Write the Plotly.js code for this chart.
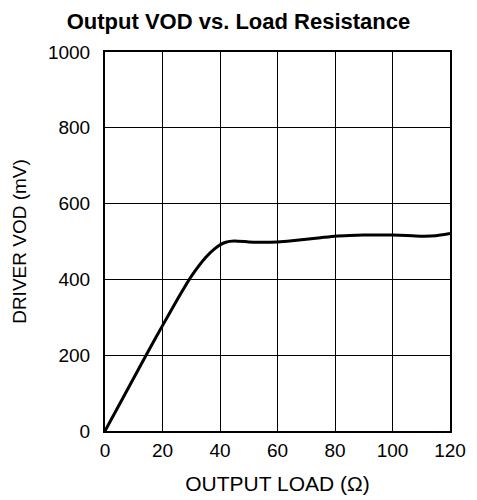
<!DOCTYPE html>
<html><head><meta charset="utf-8">
<script src="https://cdn.plot.ly/plotly-3.0.1.min.js"></script>
<style>body{margin:0;background:#fff}</style>
</head><body>
<div id="chart" style="width:477px;height:500px"></div>
<script>
const loadOhms = [0, 5, 10, 15, 20, 25, 30, 35, 38, 40, 42, 45, 50, 55, 60, 65, 70, 75, 80, 85, 90, 95, 100, 105, 110, 115, 120];
const vodMilliVolts = [0, 70, 140, 210, 278, 345, 408, 458, 480, 491, 498, 501, 499, 498, 499, 502, 506, 510, 514, 516, 517, 517, 517, 516, 514, 515, 521];
const xTicks = [0, 20, 40, 60, 80, 100, 120];
const yTicks = [0, 200, 400, 600, 800, 1000];

const font = "Liberation Sans, Arial, Helvetica, sans-serif";
Plotly.newPlot('chart', [{
  x: loadOhms, y: vodMilliVolts, type: 'scatter', mode: 'lines',
  line: {color: '#000', width: 3, shape: 'spline', smoothing: 0.5},
  hoverinfo: 'skip'
}], {
  width: 477, height: 500,
  margin: {l: 105, r: 27, t: 52, b: 69},
  paper_bgcolor: '#fff', plot_bgcolor: '#fff',
  showlegend: false,
  font: {family: font, color: '#000', size: 19},
  title: {text: '<b>Output VOD vs. Load Resistance</b>', font: {family: font, size: 22, color: '#000'}, x: 0.5, xanchor: 'center', y: 0.958, yanchor: 'middle'},
  xaxis: {
    range: [0, 120], tickvals: xTicks, ticktext: xTicks.map(String),
    showgrid: true, gridcolor: '#000', gridwidth: 1,
    showline: true, linecolor: '#000', linewidth: 2, mirror: true,
    zeroline: false, ticks: '', ticklabelstandoff: 1,
    tickfont: {family: font, size: 19, color: '#000'},
    title: {text: 'OUTPUT LOAD (Ω)', font: {family: font, size: 21, color: '#000'}, standoff: 17}
  },
  yaxis: {
    range: [0, 1000], tickvals: yTicks, ticktext: yTicks.map(String),
    showgrid: true, gridcolor: '#000', gridwidth: 1,
    showline: true, linecolor: '#000', linewidth: 2, mirror: true,
    zeroline: false, ticks: '', ticklabelstandoff: 9,
    tickfont: {family: font, size: 19, color: '#000'},
    title: {text: 'DRIVER VOD (mV)', font: {family: font, size: 19, color: '#000'}, standoff: 16}
  }
}, {displayModeBar: false, staticPlot: true});
</script>
</body></html>
